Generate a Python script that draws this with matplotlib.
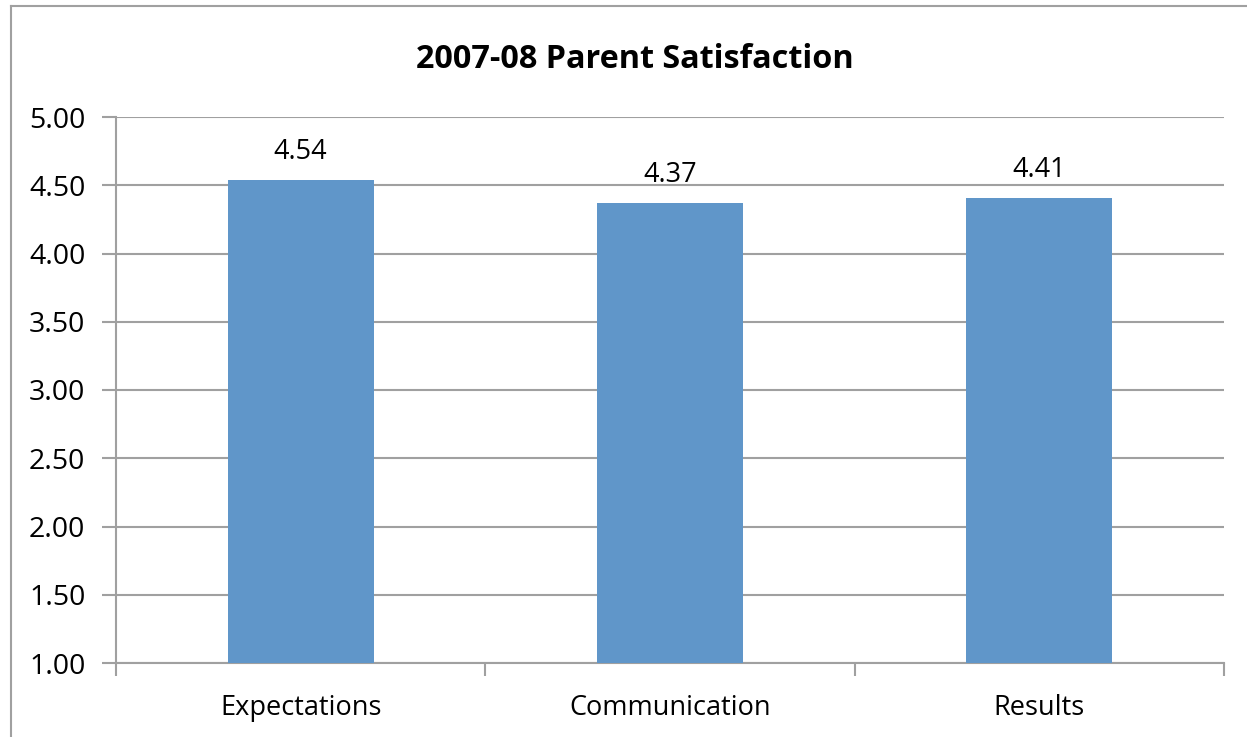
import matplotlib
matplotlib.use("Agg")
import matplotlib.pyplot as plt
from matplotlib.lines import Line2D

categories = ["Expectations", "Communication", "Results"]
scores = [4.54, 4.37, 4.41]
y_ticks = [1.00, 1.50, 2.00, 2.50, 3.00, 3.50, 4.00, 4.50, 5.00]

plt.rcParams['font.family'] = ['Open Sans', 'DejaVu Sans']

W, H = 1247, 737
fig = plt.figure(figsize=(W / 100, H / 100), dpi=100)
ax = fig.add_axes([116 / W, 1 - 663 / H, (1224 - 116) / W, (663 - 117) / H])

grid_col = "#a0a0a0"
x = list(range(len(categories)))
ax.bar(x, [s - 1.0 for s in scores], bottom=1.0, width=0.395,
       color="#6096c9", zorder=3)

for xi, s in zip(x, scores):
    ax.text(xi, s + 0.1, f"{s:.2f}", ha="center", va="bottom",
            fontsize=19.5, color="black")

ax.set_xlim(-0.5, len(categories) - 0.5)
ax.set_ylim(1.0, 5.0)
ax.set_yticks(y_ticks)
ax.set_yticklabels([f"{v:.2f}" for v in y_ticks], fontsize=20.5)
ax.yaxis.grid(True, color=grid_col, linewidth=1.5, zorder=0)

# category labels without ticks, ticks on category boundaries
ax.set_xticks(x)
ax.set_xticklabels(categories, fontsize=19.5)
ax.tick_params(axis="x", length=0, pad=22)
ax.set_xticks([-0.5, 0.5, 1.5, 2.5], minor=True)
ax.tick_params(axis="x", which="minor", length=9, width=1.5, color=grid_col)
ax.tick_params(axis="y", length=10, width=1.5, color=grid_col, pad=12)

for side in ["top", "right"]:
    ax.spines[side].set_visible(False)
for side in ["left", "bottom"]:
    ax.spines[side].set_color(grid_col)
    ax.spines[side].set_linewidth(1.5)

# title is centred on the whole chart area, not the plot area
fig.text(635 / W, 1 - 60 / H, "2007-08 Parent Satisfaction", fontsize=23.3,
         fontweight="bold", ha="center", va="center")

# chart area border (cut off at right and bottom)
fig.add_artist(Line2D([11 / W, 11 / W], [0, 1 - 6 / H], color=grid_col,
                      linewidth=1.5, transform=fig.transFigure))
fig.add_artist(Line2D([11 / W, 1], [1 - 6 / H, 1 - 6 / H], color=grid_col,
                      linewidth=1.5, transform=fig.transFigure))

fig.savefig("out.png", dpi=100)
